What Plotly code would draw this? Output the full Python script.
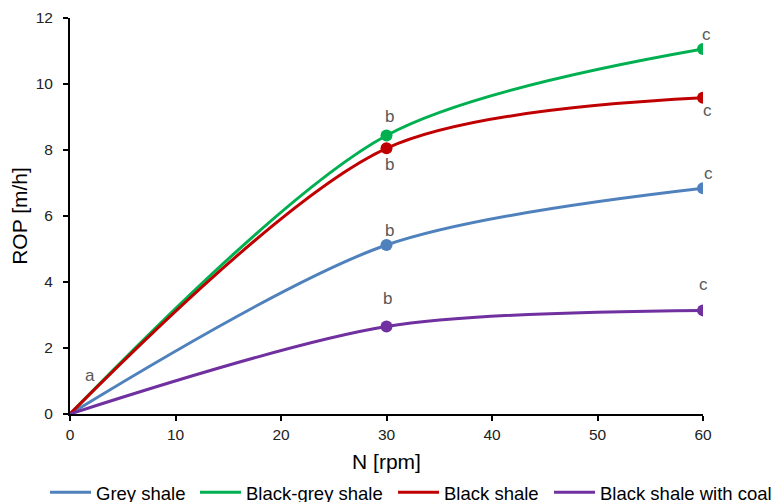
import plotly.graph_objects as go

rpm = [0, 30, 60]
grey_shale = [0, 5.12, 6.84]
black_grey_shale = [0, 8.44, 11.06]
black_shale = [0, 8.05, 9.58]
black_shale_coal = [0, 2.65, 3.14]

series_names = ["Grey shale", "Black-grey shale", "Black shale", "Black shale with coal"]
series_values = [grey_shale, black_grey_shale, black_shale, black_shale_coal]
colors = ["#4F81BD", "#00B050", "#C00000", "#7030A0"]

point_labels = ["a", "b", "c"]
# pixel offsets (x, y) of the letter labels for the points at 30 and 60 rpm
label_shift = [
    [None, (3, 15), (5, 15)],
    [None, (3, 19), (3, 15)],
    [None, (3, -16), (4, -13)],
    [None, (1, 28), (0, 26)],
]
legend_x = [-0.0395, 0.1975, 0.5103, 0.7567]

font_family = "Arial, Liberation Sans, sans-serif"
fig = go.Figure()
legend_ids = ["legend", "legend2", "legend3", "legend4"]
for name, vals, col, lid in zip(series_names, series_values, colors, legend_ids):
    fig.add_trace(go.Scatter(
        x=rpm, y=vals, name=name, mode="lines", legend=lid,
        line=dict(color=col, width=3, shape="spline", smoothing=0.85),
    ))
    fig.add_trace(go.Scatter(
        x=rpm[1:], y=vals[1:], name=name, mode="markers", showlegend=False,
        marker=dict(color=col, size=12),
    ))

annotations = [dict(x=rpm[0], y=0, text=point_labels[0], showarrow=False,
                    xanchor="center", yanchor="middle", xshift=20, yshift=39,
                    font=dict(size=17, color="#595959", family=font_family))]
for vals, shifts in zip(series_values, label_shift):
    for i in (1, 2):
        dx, dy = shifts[i]
        annotations.append(dict(x=rpm[i], y=vals[i], text=point_labels[i], showarrow=False,
                                xanchor="center", yanchor="middle",
                                xshift=dx, yshift=dy,
                                font=dict(size=17, color="#595959", family=font_family)))

legend_common = dict(orientation="h", xanchor="left", y=-0.199, yanchor="middle",
                     font=dict(size=18.5, color="#000000", family=font_family),
                     itemwidth=41, bgcolor="rgba(0,0,0,0)", borderwidth=0)
legends = {}
for lid, lx in zip(legend_ids, legend_x):
    legends[lid] = dict(legend_common, x=lx)

fig.update_layout(
    width=774, height=502,
    margin=dict(l=70, r=71, t=18, b=88, autoexpand=False),
    paper_bgcolor="white", plot_bgcolor="white",
    font=dict(family=font_family, color="#000000", size=15),
    showlegend=True,
    annotations=annotations,
    xaxis=dict(range=[0, 60], tickvals=[0, 10, 20, 30, 40, 50, 60],
               showline=True, linecolor="black", linewidth=2,
               ticks="outside", ticklen=5, tickcolor="black", tickwidth=1.5,
               showgrid=False, zeroline=False,
               title=dict(text="N [rpm]", font=dict(size=21), standoff=13),
               tickfont=dict(size=15.5, color="#222")),
    yaxis=dict(range=[0, 12], tickvals=[0, 2, 4, 6, 8, 10, 12],
               showline=True, linecolor="black", linewidth=2,
               ticks="outside", ticklen=5, tickcolor="black", tickwidth=1.5,
               ticklabelstandoff=7,
               showgrid=False, zeroline=False,
               title=dict(text="ROP [m/h]", font=dict(size=21), standoff=2),
               tickfont=dict(size=15.5, color="#222")),
    **legends,
)
fig.write_html("out.html", config={"displayModeBar": False},
               post_script="document.body.style.margin='0';document.body.style.overflow='hidden';")
